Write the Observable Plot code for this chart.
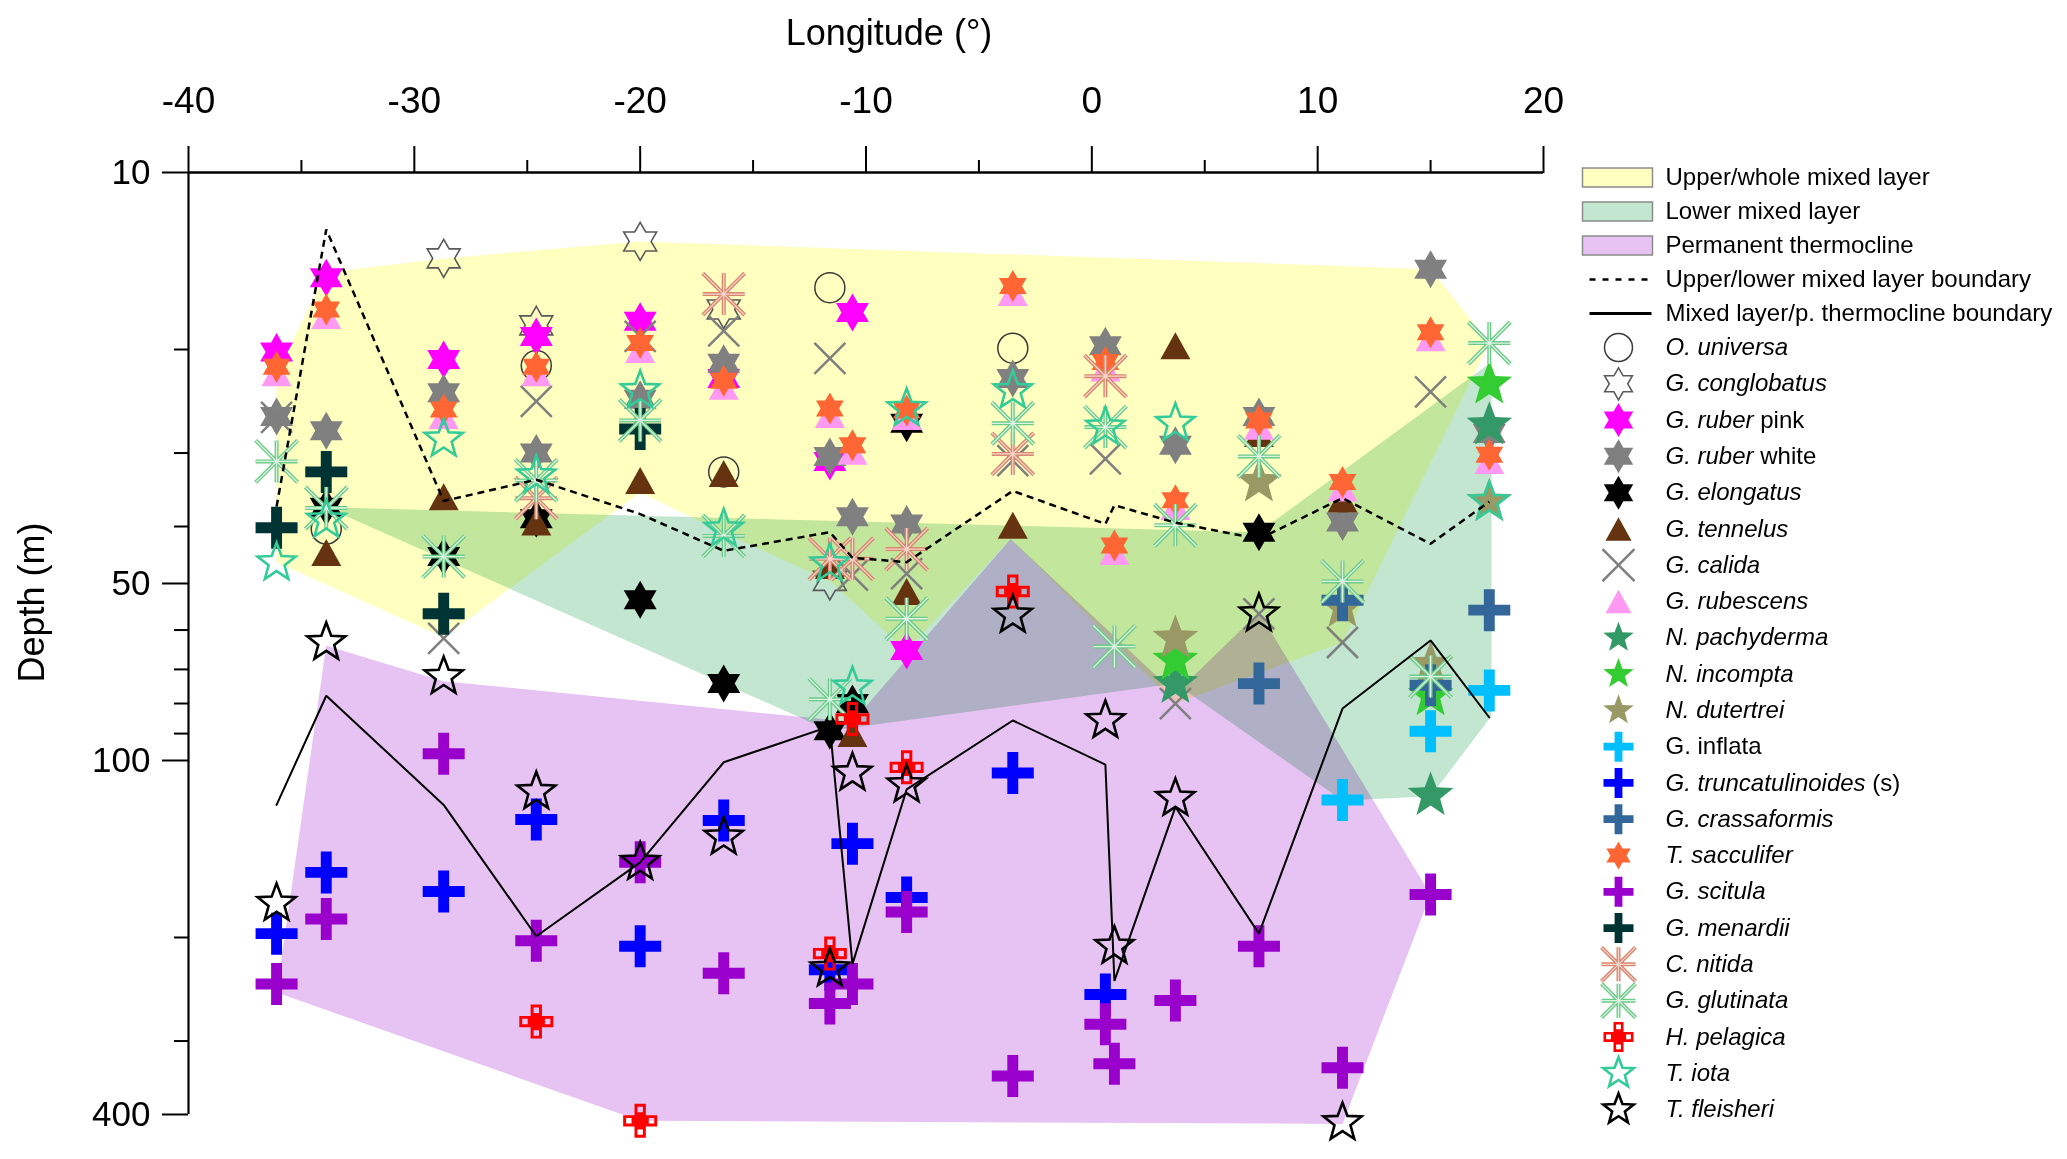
<!DOCTYPE html>
<html>
<head>
<meta charset="utf-8">
<script src="https://cdn.jsdelivr.net/npm/d3@7"></script>
<script src="https://cdn.jsdelivr.net/npm/@observablehq/plot@0.6"></script>
<style>
html, body { margin: 0; padding: 0; background: #fff; overflow: hidden; }
#wrap { position: relative; width: 2067px; height: 1159px; }
svg text { white-space: pre; }
</style>
</head>
<body>
<div id="wrap"></div>
<script>
// ---------- axis ticks and titles ----------
const xTitle = "Longitude (°)";
const yTitle = "Depth (m)";
const xTicks = [-40, -30, -20, -10, 0, 10, 20];
const xMinorTicks = [-35, -25, -15, -5, 5, 15];
const yTicks = [10, 50, 100, 400];
const yMinorTicks = [20, 30, 40, 60, 70, 80, 90, 200, 300];

// ---------- layer polygons [longitude, depth] ----------
const yellowLayer = [[-36.1, 22], [-33.9, 14.8], [-28.7, 14.0], [-20.0, 13.1], [15.0, 14.6], [17.6, 19.5],
  [11.1, 63], [3.7, 80], [-3.6, 42], [-8.2, 65], [-11.6, 49.5], [-16.3, 41], [-20.0, 35], [-28.7, 61.7], [-36.1, 46]];
const greenLayer = [[-33.9, 37.1], [7.4, 40.9], [17.7, 21], [17.7, 84], [15.0, 115], [11.1, 117], [3.7, 74], [-11.6, 89]];
const purpleLayer = [[-36.1, 248], [-33.9, 63.8], [-28.7, 73.3], [-10.6, 86], [-3.6, 42], [3.7, 77], [7.4, 56],
  [15.0, 169], [11.1, 415], [-20.0, 410]];

// ---------- boundary lines ----------
const upperLowerBoundary = [[-36.1, 37], [-33.9, 12.5], [-28.7, 36.2], [-24.6, 33.3], [-20.0, 38.1], [-16.3, 44.0],
  [-11.6, 40.9], [-10.6, 45.2], [-8.2, 46.0], [-3.5, 34.8], [0.6, 39.6], [1.0, 36.8], [3.7, 39.4], [7.4, 42.0],
  [11.1, 35.8], [15.0, 42.8], [17.6, 36.3]];
const mixedLayerBase = [[-36.1, 119], [-33.9, 77.6], [-28.7, 119], [-24.6, 199], [-20.0, 149], [-16.3, 100.7],
  [-11.6, 87.5], [-10.6, 222], [-8.2, 112], [-3.5, 85.5], [0.6, 101.6], [1.0, 237], [3.7, 120], [7.4, 197],
  [11.1, 81.6], [15.0, 62.5], [17.6, 84.5]];

// ---------- species [longitude, depth] ----------
const universa = [[-33.9, 40.4], [-24.6, 21.3], [-16.3, 32.3], [-11.6, 15.7], [-3.5, 19.9]];
const conglobatus = [[-28.7, 14.0], [-24.6, 18.2], [-20.0, 13.1], [-16.3, 17.1], [-11.6, 49.5]];
const ruberPink = [[-36.1, 20.2], [-33.9, 15.1], [-28.7, 20.8], [-24.6, 19.0], [-20.0, 17.9], [-16.3, 22.4],
  [-11.6, 31.0], [-10.6, 17.3], [-8.2, 65]];
const ruberWhite = [[-36.1, 26.0], [-33.9, 27.5], [-28.7, 23.7], [-24.6, 30.0], [-20.0, 24.3], [-16.3, 21.1],
  [-11.6, 30.4], [-10.6, 38.5], [-8.2, 39.6], [-3.5, 22.4], [0.6, 19.7], [3.7, 29.1], [7.4, 26.0], [11.1, 39.3],
  [15.0, 14.6], [17.6, 27.8]];
const elongatus = [[-33.9, 37.1], [-28.7, 45.0], [-24.6, 38.8], [-20.0, 53.3], [-16.3, 74.0], [-11.6, 89],
  [-10.6, 80], [-8.2, 26.7], [7.4, 40.9]];
const tennelus = [[-33.9, 44.3], [-28.7, 35.6], [-24.6, 39.3], [-20.0, 33.4], [-16.3, 32.5], [-11.6, 46.6],
  [-10.6, 90], [-8.2, 51.6], [-3.5, 39.8], [3.7, 19.7], [7.4, 27.8], [11.1, 35.9]];
const calida = [[-36.1, 26.1], [-28.7, 62], [-24.6, 24.5], [-20.0, 19.0], [-16.3, 18.6], [-11.6, 20.7],
  [-10.6, 48.4], [-8.2, 48.1], [-3.5, 30.9], [0.6, 30.7], [3.7, 80], [7.4, 56.3], [11.1, 63], [15.0, 23.6]];
const rubescens = [[-36.1, 21.9], [-33.9, 17.5], [-28.7, 25.9], [-24.6, 21.9], [-20.0, 20.0], [-16.3, 23.1],
  [-11.6, 25.8], [-10.6, 29.8], [-8.2, 26.0], [-3.5, 16.0], [0.6, 21.5], [1.0, 44.1], [3.7, 37.0], [7.4, 27.0],
  [11.1, 34.4], [15.0, 19.1], [17.6, 30.9]];
const pachyderma = [[3.7, 74], [15.0, 114.7], [17.6, 26.9]];
const incompta = [[3.7, 67.6], [15.0, 77.6], [17.6, 22.9]];
const dutertrei = [[3.7, 62], [7.4, 33.6], [11.1, 54.9], [15.0, 68.8], [17.6, 36.3]];
const inflata = [[11.1, 116.7], [15.0, 89.2], [17.6, 76]];
const truncatulinoides = [[-36.1, 197], [-33.9, 155], [-28.7, 167], [-24.6, 126], [-20.0, 207], [-16.3, 126.5],
  [-11.6, 227], [-10.6, 138.5], [-8.2, 171], [-3.5, 105], [0.6, 250]];
const crassaformis = [[7.4, 74], [11.1, 53.4], [15.0, 74.5], [17.6, 55.5]];
const sacculifer = [[-36.1, 21.4], [-33.9, 17.1], [-28.7, 25.3], [-24.6, 21.4], [-20.0, 19.5], [-16.3, 22.6],
  [-11.6, 25.2], [-10.6, 29.1], [-8.2, 25.4], [-3.5, 15.6], [0.6, 21.0], [1.0, 43.1], [3.7, 36.1], [7.4, 26.4],
  [11.1, 33.6], [15.0, 18.7], [17.6, 30.2]];
const scitula = [[-36.1, 240], [-33.9, 186], [-28.7, 97.4], [-24.6, 202.5], [-20.0, 149], [-16.3, 230],
  [-11.6, 259], [-10.6, 240], [-8.2, 181], [-3.5, 344], [0.6, 281], [1.0, 328], [3.7, 256], [7.4, 207],
  [11.1, 333], [15.0, 169]];
const menardii = [[-36.1, 40.2], [-33.9, 32.3], [-28.7, 56.3], [-20.0, 27.3]];
const nitida = [[-24.6, 35.8], [-16.3, 16.1], [-11.6, 45.4], [-10.6, 45.4], [-8.2, 43.7], [-3.5, 30.1], [0.6, 22.2]];
const glutinata = [[-36.1, 31.0], [-33.9, 37.2], [-28.7, 45.0], [-24.6, 33.4], [-20.0, 26.4], [-16.3, 41.5],
  [-11.6, 78.7], [-8.2, 57.4], [-3.5, 26.7], [0.6, 27.1], [1.0, 64], [3.7, 39.8], [7.4, 30.4], [11.1, 49.6],
  [15.0, 72], [17.6, 19.5]];
const pelagica = [[-24.6, 278], [-20.0, 410], [-11.6, 213], [-10.6, 85], [-8.2, 102.7], [-3.5, 51.6]];
const iota = [[-36.1, 46.1], [-33.9, 39.0], [-28.7, 28.4], [-24.6, 32.8], [-20.0, 23.5], [-16.3, 40.4],
  [-11.6, 46.3], [-10.6, 75], [-8.2, 25.2], [-3.5, 23.5], [0.6, 27.1], [3.7, 26.7], [17.6, 36.3]];
const fleisheri = [[-36.1, 175], [-33.9, 63], [-28.7, 72], [-24.6, 113], [-20.0, 149], [-16.3, 135],
  [-11.6, 226], [-10.6, 105], [-8.2, 110], [-3.5, 56.6], [0.6, 85.5], [1.0, 207], [3.7, 116], [7.4, 56.3],
  [11.1, 413]];

// ---------- legend names ----------
const layerNames = ["Upper/whole mixed layer", "Lower mixed layer", "Permanent thermocline"];
const lineNames = ["Upper/lower mixed layer boundary", "Mixed layer/p. thermocline boundary"];
const speciesNames = ["O. universa", "G. conglobatus", "G. ruber pink", "G. ruber white", "G. elongatus",
  "G. tennelus", "G. calida", "G. rubescens", "N. pachyderma", "N. incompta", "N. dutertrei", "G. inflata",
  "G. truncatulinoides (s)", "G. crassaformis", "T. sacculifer", "G. scitula", "G. menardii", "C. nitida",
  "G. glutinata", "H. pelagica", "T. iota", "T. fleisheri"];
// italic part of each species name (rest is upright)
const speciesItalic = ["O. universa", "G. conglobatus", "G. ruber", "G. ruber", "G. elongatus", "G. tennelus",
  "G. calida", "G. rubescens", "N. pachyderma", "N. incompta", "N. dutertrei", "", "G. truncatulinoides",
  "G. crassaformis", "T. sacculifer", "G. scitula", "G. menardii", "C. nitida", "G. glutinata", "H. pelagica",
  "T. iota", "T. fleisheri"];
const speciesSeries = [universa, conglobatus, ruberPink, ruberWhite, elongatus, tennelus, calida, rubescens,
  pachyderma, incompta, dutertrei, inflata, truncatulinoides, crassaformis, sacculifer, scitula, menardii,
  nitida, glutinata, pelagica, iota, fleisheri];

// ---------- custom symbols ----------
function makeSymbol(fn) { return {draw(ctx, size) { fn(ctx, Math.sqrt(size / Math.PI)); }}; }
function polyStar(c, R, n, ratio) {
  for (let k = 0; k < 2 * n; k++) {
    const a = -Math.PI / 2 + k * Math.PI / n, rr = k % 2 ? R * ratio : R;
    const px = rr * Math.cos(a), py = rr * Math.sin(a);
    if (k === 0) c.moveTo(px, py); else c.lineTo(px, py);
  }
  c.closePath();
}
const hexagram = makeSymbol((c, R) => polyStar(c, R, 6, 1 / Math.sqrt(3)));
const star5 = makeSymbol((c, R) => polyStar(c, R, 5, 0.42));
const triangle = makeSymbol((c, R) => { const h = R * 0.9; c.moveTo(0, -h); c.lineTo(R, h); c.lineTo(-R, h); c.closePath(); });
const plus = makeSymbol((c, R) => {
  const t = R * 0.26;
  c.moveTo(-t, -R); c.lineTo(t, -R); c.lineTo(t, -t); c.lineTo(R, -t); c.lineTo(R, t); c.lineTo(t, t);
  c.lineTo(t, R); c.lineTo(-t, R); c.lineTo(-t, t); c.lineTo(-R, t); c.lineTo(-R, -t); c.lineTo(-t, -t); c.closePath();
});
const times = makeSymbol((c, R) => { c.moveTo(-R, -R); c.lineTo(R, R); c.moveTo(R, -R); c.lineTo(-R, R); });
const asterisk = makeSymbol((c, R) => {
  c.moveTo(-R, 0); c.lineTo(R, 0); c.moveTo(0, -R); c.lineTo(0, R);
  c.moveTo(-R, -R); c.lineTo(R, R); c.moveTo(R, -R); c.lineTo(-R, R);
});
const hollowCross = makeSymbol((c, R) => {
  const u = 2 * R / 3, h = u / 2, s = u * 0.24;
  c.moveTo(-h, -R); c.lineTo(h, -R); c.lineTo(h, -h); c.lineTo(R, -h); c.lineTo(R, h); c.lineTo(h, h);
  c.lineTo(h, R); c.lineTo(-h, R); c.lineTo(-h, h); c.lineTo(-R, h); c.lineTo(-R, -h); c.lineTo(-h, -h); c.closePath();
  for (const [cx, cy] of [[0, -u], [u, 0], [0, u], [-u, 0]]) {
    c.moveTo(cx - s, cy - s); c.lineTo(cx - s, cy + s); c.lineTo(cx + s, cy + s); c.lineTo(cx + s, cy - s); c.closePath();
  }
});
const boxSym = {draw(c) { c.rect(-35, -9.5, 70, 19); }};
const hlineSym = {draw(c) { c.moveTo(-31, 0); c.lineTo(31, 0); }};

// ---------- styles (per species, legend order) ----------
const speciesStyles = [
  {symbol: "circle", r: 15, lr: 14, fill: "none", stroke: "#3a3a3a", strokeWidth: 1.5},
  {symbol: hexagram, r: 19, lr: 16, fill: "none", stroke: "#5a5a5a", strokeWidth: 1.6},
  {symbol: hexagram, r: 19, lr: 17, fill: "#FF00FF"},
  {symbol: hexagram, r: 19, lr: 17, fill: "#808080"},
  {symbol: hexagram, r: 19, lr: 17, fill: "#000000"},
  {symbol: triangle, r: 15, lr: 13, fill: "#663311"},
  {symbol: times, r: 15.5, lr: 16, fill: "none", stroke: "#7f7f7f", strokeWidth: 2.5},
  {symbol: triangle, r: 15, lr: 13, fill: "#FF99F2"},
  {symbol: star5, r: 24, lr: 16, fill: "#339966"},
  {symbol: star5, r: 24, lr: 16, fill: "#33CC33"},
  {symbol: star5, r: 24, lr: 16, fill: "#999966"},
  {symbol: plus, r: 21, lr: 15, fill: "#00BFFF"},
  {symbol: plus, r: 21, lr: 15, fill: "#0000FF"},
  {symbol: plus, r: 21, lr: 15, fill: "#336699"},
  {symbol: hexagram, r: 16, lr: 14, fill: "#FF6633"},
  {symbol: plus, r: 21, lr: 15, fill: "#9900CC"},
  {symbol: plus, r: 21, lr: 15, fill: "#003333"},
  {symbol: asterisk, r: 21, lr: 17, fill: "none", stroke: "#D9886F", strokeWidth: 4, inner: "#F6D6CC"},
  {symbol: asterisk, r: 21, lr: 17, fill: "none", stroke: "#6CCB88", strokeWidth: 4, inner: "#DDF4E3"},
  {symbol: hollowCross, r: 17, lr: 15, fill: "#FF0000"},
  {symbol: star5, r: 20, lr: 16, fill: "none", stroke: "#33CC99", strokeWidth: 2.6},
  {symbol: star5, r: 20, lr: 16, fill: "none", stroke: "#000000", strokeWidth: 2.6}
];
const layerColors = ["#FFFFC0", "#C2E6D0", "#E6C3F2"];

const lon = d => d[0], depth = d => d[1];
const FONT = "'Liberation Sans', Arial, Helvetica, sans-serif";

// ---------- main chart ----------
const dotMarks = [];
speciesSeries.forEach((data, i) => {
  const s = speciesStyles[i];
  dotMarks.push(Plot.dot(data, {x: lon, y: depth, symbol: s.symbol, r: s.r, fill: s.fill,
    stroke: s.stroke || "none", strokeWidth: s.strokeWidth || 1, strokeLinecap: "butt", strokeLinejoin: "miter"}));
  if (s.inner) dotMarks.push(Plot.dot(data, {x: lon, y: depth, symbol: s.symbol, r: s.r, fill: "none",
    stroke: s.inner, strokeWidth: 1.3, strokeLinecap: "butt"}));
});

const CW = 1590, H = 1159, LW = 2067 - CW;
const chart = Plot.plot({
  width: CW, height: H,
  marginLeft: 188, marginRight: 47, marginTop: 172, marginBottom: 45,
  style: {fontFamily: FONT, background: "white", color: "black", overflow: "visible"},
  x: {domain: [-40, 20]},
  y: {type: "log", domain: [10, 400], reverse: true},
  marks: [
    Plot.line(yellowLayer, {x: lon, y: depth, curve: "linear-closed", fill: layerColors[0], stroke: "none", mixBlendMode: "multiply"}),
    Plot.line(greenLayer, {x: lon, y: depth, curve: "linear-closed", fill: layerColors[1], stroke: "none", mixBlendMode: "multiply"}),
    Plot.line(purpleLayer, {x: lon, y: depth, curve: "linear-closed", fill: layerColors[2], stroke: "none", mixBlendMode: "multiply"}),
    Plot.ruleY([10], {stroke: "black", strokeWidth: 2.5}),
    Plot.ruleX([-40], {stroke: "black", strokeWidth: 2.2}),
    Plot.axisX(xTicks, {anchor: "top", tickSize: 27, tickPadding: 33, fontSize: 37, strokeWidth: 2,
      tickFormat: d => String(d), label: null}),
    Plot.axisX(xMinorTicks, {anchor: "top", tickSize: 13, strokeWidth: 2, tickFormat: () => "", label: null}),
    Plot.axisY(yTicks, {anchor: "left", tickSize: 26, tickPadding: 12, fontSize: 35, strokeWidth: 2,
      tickFormat: d => String(d), label: null}),
    Plot.axisY(yMinorTicks, {anchor: "left", tickSize: 14, strokeWidth: 2, tickFormat: () => "", label: null}),
    ...dotMarks,
    Plot.line(mixedLayerBase, {x: lon, y: depth, stroke: "black", strokeWidth: 2, strokeLinejoin: "miter"}),
    Plot.line(upperLowerBoundary, {x: lon, y: depth, stroke: "black", strokeWidth: 2.5, strokeDasharray: "7,5",
      strokeLinecap: "butt", strokeLinejoin: "miter"}),
    Plot.text([xTitle], {text: d => d, frameAnchor: "top", dx: 23, dy: -128, lineAnchor: "bottom", fontSize: 36}),
    Plot.text([yTitle], {text: d => d, frameAnchor: "left", rotate: -90, dx: -145, dy: 39, lineAnchor: "bottom", fontSize: 36})
  ]
});

// ---------- legend ----------
const legendLabels = [...layerNames, ...lineNames, ...speciesNames];
const row = d => legendLabels.indexOf(d);
const LX = 28; // symbol column offset inside the legend panel
const legendMarks = [];
layerNames.forEach((name, i) => legendMarks.push(Plot.dot([name], {y: row, frameAnchor: "left", dx: LX - 1,
  symbol: boxSym, r: 10, fill: layerColors[i], stroke: "#8c8c8c", strokeWidth: 1.5})));
lineNames.forEach((name, i) => legendMarks.push(Plot.dot([name], {y: row, frameAnchor: "left", dx: LX + 2,
  symbol: hlineSym, r: 10, fill: "none", stroke: "black", strokeWidth: i === 0 ? 2.5 : 3,
  strokeDasharray: i === 0 ? "6,7" : null, strokeLinecap: "butt"})));
speciesNames.forEach((name, i) => {
  const s = speciesStyles[i];
  legendMarks.push(Plot.dot([name], {y: row, frameAnchor: "left", dx: LX, symbol: s.symbol, r: s.lr,
    fill: s.fill, stroke: s.stroke || "none", strokeWidth: s.strokeWidth || 1, strokeLinecap: "butt", strokeLinejoin: "miter"}));
  if (s.inner) legendMarks.push(Plot.dot([name], {y: row, frameAnchor: "left", dx: LX, symbol: s.symbol,
    r: s.lr, fill: "none", stroke: s.inner, strokeWidth: 1.2, strokeLinecap: "butt"}));
});
legendMarks.push(Plot.text(legendLabels, {y: row, text: d => d, frameAnchor: "left", dx: LX + 47,
  textAnchor: "start", fontSize: 24}));

const legend = Plot.plot({
  width: LW, height: H, margin: 0,
  style: {fontFamily: FONT, background: "transparent", color: "black", overflow: "visible"},
  y: {type: "linear", domain: [0, 5, legendLabels.length - 1], range: [177, 347, 1109], axis: null},
  marks: legendMarks
});

// italic genus/species parts in legend text
const italicByName = new Map(speciesNames.map((n, i) => [n, speciesItalic[i]]));
const NS = "http://www.w3.org/2000/svg";
legend.querySelectorAll("text").forEach(t => {
  const full = t.textContent;
  if (!italicByName.has(full)) return;
  const it = italicByName.get(full);
  const rest = full.slice(it.length);
  t.textContent = "";
  if (it) { const a = document.createElementNS(NS, "tspan"); a.setAttribute("font-style", "italic"); a.textContent = it; t.appendChild(a); }
  if (rest) { const b = document.createElementNS(NS, "tspan"); b.textContent = rest; t.appendChild(b); }
});

// fixed placement: chart on the left, legend panel on the right
chart.style.cssText += `;position:absolute;left:0;top:0;width:${CW}px;height:${H}px;max-width:none;`;
legend.style.cssText += `;position:absolute;left:${CW}px;top:0;width:${LW}px;height:${H}px;max-width:none;`;
const wrap = document.getElementById("wrap");
wrap.appendChild(chart);
wrap.appendChild(legend);
</script>
</body>
</html>
